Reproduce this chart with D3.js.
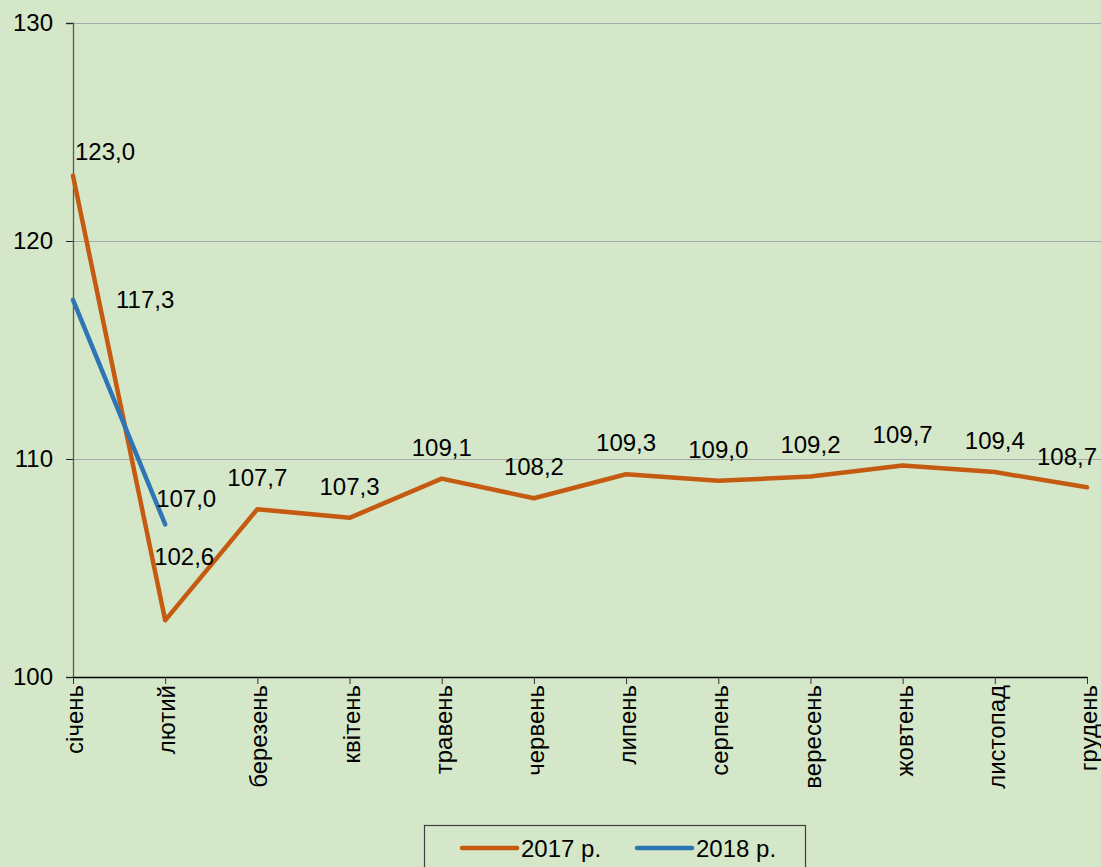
<!DOCTYPE html>
<html>
<head>
<meta charset="utf-8">
<script src="https://cdn.jsdelivr.net/npm/d3@7"></script>
<style>
  html, body { margin: 0; padding: 0; background: #D4E7C8; }
  svg { display: block; }
  text { font-family: "Liberation Sans", Arial, sans-serif; fill: #000; }
</style>
</head>
<body>
<svg id="chart" width="1101" height="867"></svg>
<script>
const months = ["січень", "лютий", "березень", "квітень", "травень", "червень",
                "липень", "серпень", "вересень", "жовтень", "листопад", "грудень"];
const values2017 = [123.0, 102.6, 107.7, 107.3, 109.1, 108.2, 109.3, 109.0, 109.2, 109.7, 109.4, 108.7];
const values2018 = [117.3, 107.0];
const seriesNames = ["2017 р.", "2018 р."];
const seriesColors = ["#C55A11", "#2E75B6"];
const yTicks = [100, 110, 120, 130];

(function () {
const svg = d3.select("#chart");
const W = 1101, H = 867;
const pLeft = 73, pRight = 1087, pTop = 23, pBottom = 677;
const FS = 24;

svg.append("rect").attr("width", W).attr("height", H).attr("fill", "#D4E7C8");

const x = d3.scalePoint().domain(months).range([pLeft, pRight]);
const y = d3.scaleLinear().domain([100, 130]).range([pBottom, pTop]);

const fmt = v => d3.format(".1f")(v).replace(".", ",");

// gridlines
svg.append("g").selectAll("line").data(yTicks.filter(t => t > 100)).join("line")
  .attr("x1", pLeft).attr("x2", W)
  .attr("y1", d => y(d) + 0.5).attr("y2", d => y(d) + 0.5)
  .attr("stroke", "#A3ABAB").attr("stroke-width", 1);

// y axis
const yAxis = svg.append("g").attr("transform", `translate(${pLeft},0)`)
  .call(d3.axisLeft(y).tickValues(yTicks).tickSize(7).tickPadding(13).tickFormat(d3.format("d")));
yAxis.select(".domain").attr("stroke", "#595959").attr("stroke-width", 1.3);
yAxis.selectAll(".tick line").attr("stroke", "#222");
yAxis.selectAll(".tick text").attr("font-size", FS).attr("font-family", "Liberation Sans, Arial, sans-serif").attr("fill", "#000");

// x axis
const xAxis = svg.append("g").attr("transform", `translate(0,${pBottom})`)
  .call(d3.axisBottom(x).tickSize(7).tickSizeOuter(0));
xAxis.select(".domain").attr("stroke", "#000").attr("stroke-width", 1.3);
xAxis.selectAll(".tick line").attr("stroke", "#333");
xAxis.selectAll(".tick text")
  .attr("font-size", FS).attr("font-family", "Liberation Sans, Arial, sans-serif").attr("fill", "#000")
  .attr("text-anchor", "end")
  .attr("transform", "rotate(-90)")
  .attr("x", -8).attr("y", 0).attr("dy", "0.4em");

// lines
const line = d3.line().x((d, i) => x(months[i])).y(d => y(d));
[values2017, values2018].forEach((vals, s) => {
  svg.append("path").datum(vals)
    .attr("d", line)
    .attr("fill", "none")
    .attr("stroke", seriesColors[s])
    .attr("stroke-width", 4.5)
    .attr("stroke-linejoin", "round")
    .attr("stroke-linecap", "round");
});

// data labels
const labels = svg.append("g").attr("font-size", FS);
values2017.forEach((v, i) => {
  let px = x(months[i]), py = y(v);
  let tx = px, ty = py - 23, anchor = "middle";
  if (i === 0) { tx = px + 2; ty = py - 16; anchor = "start"; }
  if (i === 1) { tx = px + 19; ty = py - 55; }
  if (i === months.length - 1) { tx = px - 20; ty = py - 22; }
  labels.append("text").attr("x", tx).attr("y", ty).attr("text-anchor", anchor).text(fmt(v));
});
values2018.forEach((v, i) => {
  let px = x(months[i]), py = y(v);
  let tx = px, ty = py - 23, anchor = "middle";
  if (i === 0) { tx = px + 43; ty = py + 8; anchor = "start"; }
  if (i === 1) { tx = px + 21; ty = py - 17; }
  labels.append("text").attr("x", tx).attr("y", ty).attr("text-anchor", anchor).text(fmt(v));
});

// legend
const lg = svg.append("g");
lg.append("rect").attr("x", 424.5).attr("y", 825.5).attr("width", 381).attr("height", 60)
  .attr("fill", "none").attr("stroke", "#404040").attr("stroke-width", 1.2);
const legendX = [462, 637];
seriesNames.forEach((name, s) => {
  lg.append("line").attr("x1", legendX[s]).attr("x2", legendX[s] + 55)
    .attr("y1", 848).attr("y2", 848)
    .attr("stroke", seriesColors[s]).attr("stroke-width", 4.5).attr("stroke-linecap", "round");
  lg.append("text").attr("x", legendX[s] + 59).attr("y", 857).attr("font-size", FS).text(name);
});
})();
</script>
</body>
</html>
